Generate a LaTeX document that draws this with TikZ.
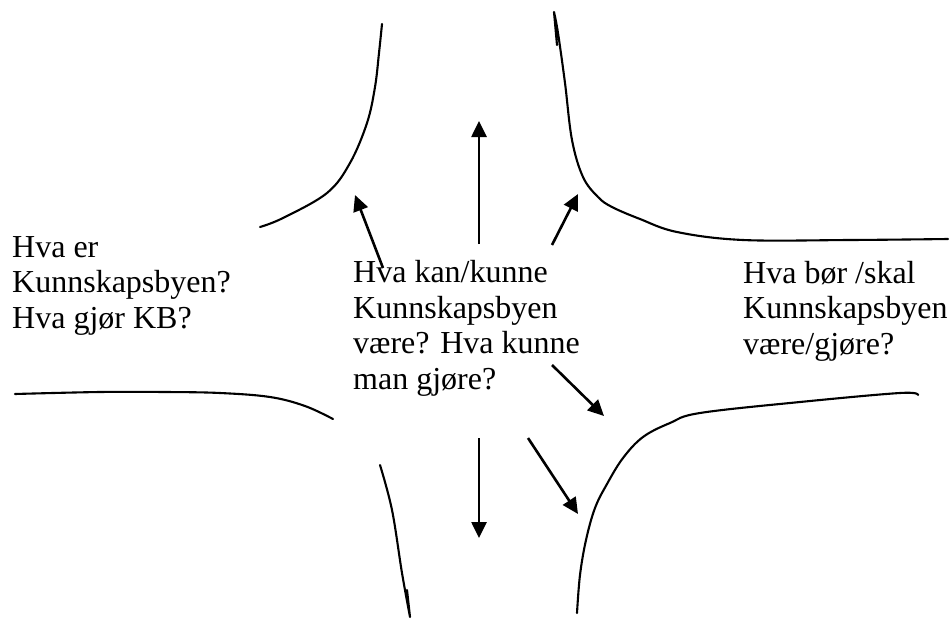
\documentclass[tikz,border=0pt]{standalone}
\usepackage{fontspec}
\setmainfont{Liberation Serif}
\usetikzlibrary{arrows.meta}
\begin{document}
\begin{tikzpicture}[x=1pt,y=-1pt,
  road/.style={line width=2.1pt,line cap=round,line join=round},
  pointer/.style={line width=2.6pt,-{Triangle[length=16pt,width=15pt]}},
  label/.style={anchor=base west,inner sep=0pt,align=left,
    font=\fontsize{32}{35.5}\selectfont}]
\useasboundingbox (0,0) rectangle (951,621);

% corner roads
\draw[road] plot[smooth,tension=0.6] coordinates
  {(260,227) (283,218) (327,193) (350,163) (367,123) (375,87) (379,53) (382,24)};
\draw[road] (557,45) -- (554,12) plot[smooth,tension=0.6] coordinates
  {(554,12) (558,33) (565,83) (572,140) (583,177) (598,197) (612,207)
   (640,219) (677,232) (743,240) (850,240) (948,239)};
\draw[road] plot[smooth,tension=0.6] coordinates
  {(15,394) (100,392) (165,392) (220,393) (270,397) (305,406) (333,419)};
\draw[road] plot[smooth,tension=0.6] coordinates
  {(380,465) (392,510) (402,573) (410,617)} -- (407,590);
\draw[road] plot[smooth,tension=0.6] coordinates
  {(577,613) (580,575) (586,540) (595,508) (607,484) (623,458) (643,437)
   (670,423) (700,413) (800,402) (900,393) (918,395)};

% text blocks (anchored at the baseline of their last line)
\node[label] (now) at (12,328) {Hva er\\Kunnskapsbyen?\\Hva gjør KB?};
\node[label] (could) at (353,389) {Hva kan/kunne\\Kunnskapsbyen\\være? Hva kunne\\man gjøre?};
\node[label] (should) at (743,354) {Hva bør /skal\\Kunnskapsbyen\\være/gjøre?};

% arrow ends
\coordinate (a1s) at (383,268); \coordinate (a1e) at (355,195);
\coordinate (a2s) at (479,244); \coordinate (a2e) at (479,121);
\coordinate (a3s) at (552,245); \coordinate (a3e) at (578,194);
\coordinate (a4s) at (552,365); \coordinate (a4e) at (604,416);
\coordinate (a5s) at (479,438); \coordinate (a5e) at (479,538);
\coordinate (a6s) at (528,438); \coordinate (a6e) at (578,514);

\draw[pointer] (a1s) -- (a1e);
\draw[pointer] (a2s) -- (a2e);
\draw[pointer] (a3s) -- (a3e);
\draw[pointer] (a4s) -- (a4e);
\draw[pointer] (a5s) -- (a5e);
\draw[pointer] (a6s) -- (a6e);
\end{tikzpicture}
\end{document}
